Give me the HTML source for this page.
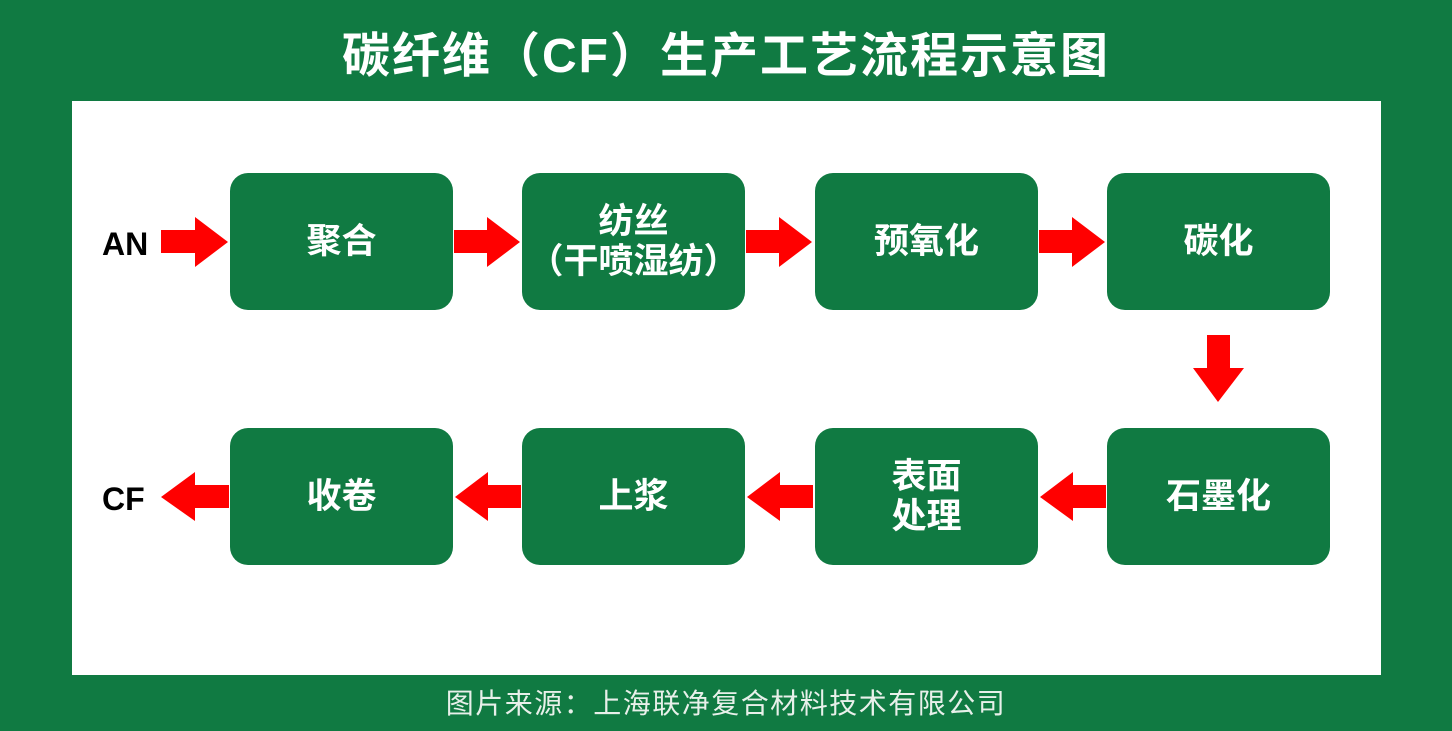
<!DOCTYPE html>
<html><head><meta charset="utf-8"><style>
body{margin:0;width:1452px;height:731px;background:#107a42;position:relative;overflow:hidden;font-family:"Liberation Sans","Noto Sans CJK SC",sans-serif}
.t{position:absolute;left:0;width:1452px;text-align:center;color:#fff}
.panel{position:absolute;left:72px;top:101px;width:1309px;height:574px;background:#fff}
.b{position:absolute;width:223px;height:137px;background:#107a42;border-radius:18px;color:#fff;font-weight:bold;font-size:35px;display:flex;align-items:center;justify-content:center;text-align:center;line-height:40px}
.lab{position:absolute;font-weight:bold;font-size:32px;color:#000}
svg{position:absolute;left:0;top:0}
</style></head><body>
<div class="t" style="top:26px;font-size:48px;letter-spacing:2px;font-weight:bold;line-height:62px">碳纤维（CF）生产工艺流程示意图</div>
<div class="panel"></div>
<div class="b" style="left:230px;top:173px">聚合</div>
<div class="b" style="left:522px;top:173px">纺丝<br>（干喷湿纺）</div>
<div class="b" style="left:815px;top:173px">预氧化</div>
<div class="b" style="left:1107px;top:173px">碳化</div>
<div class="b" style="left:230px;top:428px">收卷</div>
<div class="b" style="left:522px;top:428px">上浆</div>
<div class="b" style="left:815px;top:428px">表面<br>处理</div>
<div class="b" style="left:1107px;top:428px">石墨化</div>
<div class="lab" style="left:102px;top:226px">AN</div>
<div class="lab" style="left:102px;top:481px">CF</div>
<svg width="1452" height="731">
<g fill="#f00">
<polygon points="161,230 195,230 195,217 228,242 195,267 195,253 161,253"/>
<polygon points="454,230 487,230 487,217 520,242 487,267 487,253 454,253"/>
<polygon points="746,230 779,230 779,217 812,242 779,267 779,253 746,253"/>
<polygon points="1039,230 1072,230 1072,217 1105,242 1072,267 1072,253 1039,253"/>
<polygon points="1207,335 1230,335 1230,368 1244,368 1218,402 1193,368 1207,368"/>
<polygon points="1106,485 1073,485 1073,472 1040,497 1073,521 1073,508 1106,508"/>
<polygon points="813,485 780,485 780,472 747,497 780,521 780,508 813,508"/>
<polygon points="521,485 488,485 488,472 455,497 488,521 488,508 521,508"/>
<polygon points="229,485 195,485 195,472 161,497 195,521 195,508 229,508"/>
</g></svg>
<div class="t" style="top:686px;font-size:28px;letter-spacing:1.5px;line-height:36px;color:#e8f0ea">图片来源：上海联净复合材料技术有限公司</div>
</body></html>
